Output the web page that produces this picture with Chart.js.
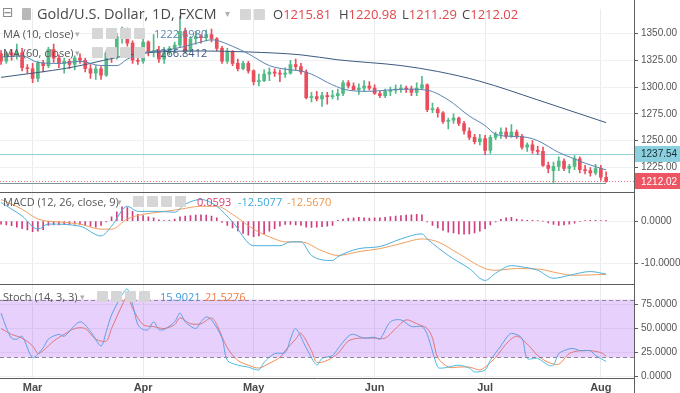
<!DOCTYPE html>
<html><head><meta charset="utf-8">
<script src="https://cdn.jsdelivr.net/npm/chart.js@4.4.0/dist/chart.umd.min.js"></script>
<style>
html,body{margin:0;padding:0;background:#fff;overflow:hidden}
#wrap{position:relative;width:680px;height:393px}
#c{position:absolute;left:0;top:0}
.lg{position:absolute;white-space:nowrap;line-height:1;font-family:'Open Sans',sans-serif}
.ic{position:absolute;width:11px;height:11px;background:#d6d6d6;border-radius:1px}
</style></head><body>
<div id="wrap">
<canvas id="c" width="680" height="393"></canvas>
<div class="lg" style="left:2px;top:5px;font-size:14px;color:#8a8a8a;font-family:'DejaVu Sans'">⊟</div>
<div class="ic" style="left:22px;top:8px;width:9px;height:12px;background:#b8b8b8"></div>
<div class="lg" style="left:37px;top:7px;font-size:14.5px;color:#4a4a4a">Gold/U.S. Dollar, 1D, FXCM</div>
<div class="lg" style="left:225px;top:8px;font-size:10px;color:#b0b0b0">▾</div>
<div class="ic" style="left:240px;top:9px"></div><div class="ic" style="left:254px;top:9px"></div>
<div class="lg" style="left:273px;top:8px;font-size:13px;color:#444">O<span style="color:#e0474c">1215.81</span></div>
<div class="lg" style="left:339px;top:8px;font-size:13px;color:#444">H<span style="color:#e0474c">1220.98</span></div>
<div class="lg" style="left:402px;top:8px;font-size:13px;color:#444">L<span style="color:#e0474c">1211.29</span></div>
<div class="lg" style="left:462px;top:8px;font-size:13px;color:#444">C<span style="color:#e0474c">1212.02</span></div>

<div class="lg" style="left:3px;top:28px;font-size:11px;color:#555">MA (10, close)</div>
<div class="lg" style="left:75px;top:29px;font-size:9px;color:#b0b0b0">▾</div>
<div class="ic" style="left:92px;top:28px"></div><div class="ic" style="left:106px;top:28px"></div><div class="ic" style="left:120px;top:28px"></div><div class="ic" style="left:134px;top:28px"></div>
<div class="lg" style="left:154px;top:28px;font-size:11px;color:#5b84b1">1222.6980</div>

<div class="lg" style="left:3px;top:47px;font-size:11px;color:#555">MA (60, close)</div>
<div class="lg" style="left:75px;top:48px;font-size:9px;color:#b0b0b0">▾</div>
<div class="ic" style="left:92px;top:47px"></div><div class="ic" style="left:106px;top:47px"></div><div class="ic" style="left:120px;top:47px"></div><div class="ic" style="left:134px;top:47px"></div>
<div class="lg" style="left:154px;top:47px;font-size:11px;color:#3d5a80">1266.8412</div>

<div class="lg" style="left:3px;top:196px;font-size:11px;color:#555">MACD (12, 26, close, 9)</div>
<div class="lg" style="left:117px;top:197px;font-size:9px;color:#b0b0b0">▾</div>
<div class="ic" style="left:133px;top:196px"></div><div class="ic" style="left:147px;top:196px"></div><div class="ic" style="left:161px;top:196px"></div><div class="ic" style="left:175px;top:196px"></div>
<div class="lg" style="left:197px;top:196px;font-size:11px;color:#d63b6e">0.0593</div>
<div class="lg" style="left:238px;top:196px;font-size:11px;color:#3fa9d9">-12.5077</div>
<div class="lg" style="left:287px;top:196px;font-size:11px;color:#f0954a">-12.5670</div>

<div class="lg" style="left:3px;top:291px;font-size:11px;color:#555">Stoch (14, 3, 3)</div>
<div class="lg" style="left:80px;top:292px;font-size:9px;color:#b0b0b0">▾</div>
<div class="ic" style="left:97px;top:291px"></div><div class="ic" style="left:111px;top:291px"></div><div class="ic" style="left:125px;top:291px"></div><div class="ic" style="left:139px;top:291px"></div>
<div class="lg" style="left:160px;top:291px;font-size:11px;color:#3f9ad8">15.9021</div>
<div class="lg" style="left:205px;top:291px;font-size:11px;color:#f07a45">21.5276</div>
</div>
<script>
// ---------- DATA ----------
const tradingDays = [
 '2018-02-21','2018-02-22','2018-02-23','2018-02-26','2018-02-27','2018-02-28',
 '2018-03-01','2018-03-02','2018-03-05','2018-03-06','2018-03-07','2018-03-08','2018-03-09','2018-03-12','2018-03-13','2018-03-14','2018-03-15','2018-03-16','2018-03-19','2018-03-20','2018-03-21','2018-03-22','2018-03-23','2018-03-26','2018-03-27','2018-03-28','2018-03-29',
 '2018-04-02','2018-04-03','2018-04-04','2018-04-05','2018-04-06','2018-04-09','2018-04-10','2018-04-11','2018-04-12','2018-04-13','2018-04-16','2018-04-17','2018-04-18','2018-04-19','2018-04-20','2018-04-23','2018-04-24','2018-04-25','2018-04-26','2018-04-27','2018-04-30',
 '2018-05-01','2018-05-02','2018-05-03','2018-05-04','2018-05-07','2018-05-08','2018-05-09','2018-05-10','2018-05-11','2018-05-14','2018-05-15','2018-05-16','2018-05-17','2018-05-18','2018-05-21','2018-05-22','2018-05-23','2018-05-24','2018-05-25','2018-05-28','2018-05-29','2018-05-30','2018-05-31',
 '2018-06-01','2018-06-04','2018-06-05','2018-06-06','2018-06-07','2018-06-08','2018-06-11','2018-06-12','2018-06-13','2018-06-14','2018-06-15','2018-06-18','2018-06-19','2018-06-20','2018-06-21','2018-06-22','2018-06-25','2018-06-26','2018-06-27','2018-06-28','2018-06-29',
 '2018-07-02','2018-07-03','2018-07-04','2018-07-05','2018-07-06','2018-07-09','2018-07-10','2018-07-11','2018-07-12','2018-07-13','2018-07-16','2018-07-17','2018-07-18','2018-07-19','2018-07-20','2018-07-23','2018-07-24','2018-07-25','2018-07-26','2018-07-27','2018-07-30','2018-07-31',
 '2018-08-01','2018-08-02'];
const monthLabels = ['Mar','Apr','May','Jun','Jul','Aug'];

const priceOpen = [1331,1324,1332,1330,1332,1318,1317,1308,1322,1320,1335,1327,1322,1324,1321,1327,1325,1317,1313,1317,1311,1332,1328,1347,1354,1341,1325,
 1324,1342,1333,1334,1326,1332,1336,1339,1352,1334,1345,1347,1346,1349,1345,1336,1324,1333,1322,1317,1322,
 1315,1305,1306,1312,1314,1313,1312,1313,1321,1319,1314,1290,1291,1289,1292,1291,1292,1294,1304,1301,1297.5,1299,1301,
 1299,1294,1292,1296,1297,1298,1299,1298,1295,1299,1302,1279,1279.5,1276,1268,1269,1271,1266,1259,1253,1249,
 1252,1241,1253,1256,1258,1254,1258,1254,1244,1246,1241,1240,1227,1222,1226,1231,1224,1226,1233,1223,1222,1220,
 1224,1215.81];
const priceHigh = [1334,1333,1335,1340,1336,1321,1322,1324,1325,1337,1340,1330,1327,1326,1329,1331,1327,1321,1320,1319,1334,1336,1350,1356,1355,1343,1330,
 1345,1343,1349,1338,1337,1338,1342,1366,1355,1347,1352,1349,1353,1354,1346,1338,1336,1334,1326,1324,1324,
 1316,1312,1316,1318,1317,1316,1318,1325,1326,1322,1316,1295,1296,1295,1295,1297,1298,1306,1306,1304,1303,1306,1305,
 1302,1296,1298,1300,1302,1302,1301,1301,1304,1310,1303,1285,1281,1277,1271,1275,1272,1268,1262,1256,1256,
 1255,1255,1258,1262,1262,1265,1260,1256,1248,1250,1245,1244,1230,1230,1235,1233,1228,1236,1235,1227,1225,1228,
 1227,1220.98];
const priceLow = [1321,1322,1325,1326,1315,1313,1304,1305,1314,1318,1323,1318,1313,1317,1316,1322,1314,1308,1307,1307,1310,1323,1326,1341,1338,1322,1321,
 1322,1329,1328,1323,1322,1330,1332,1337,1332,1333,1340,1341,1343,1342,1334,1322,1322,1320,1315,1316,1313,
 1302,1301,1305,1306,1310,1305,1309,1312,1316,1312,1289,1286,1287,1282,1284,1289,1288,1292,1299,1297,1293,1296,1297,
 1293,1290,1290,1292,1294,1295,1295,1292,1292,1298,1277,1276,1272,1266,1261,1266,1264,1256,1251,1247,1246,
 1237,1238,1251,1252,1252,1253,1252,1242,1240,1238,1237,1226,1220,1211,1222,1222,1220,1223,1220,1219,1217,1218,
 1213,1211.29];
const priceClose = [1324,1332,1330,1332,1318,1317,1308,1322,1320,1335,1327,1322,1324,1321,1327,1325,1317,1313,1317,1311,1332,1328,1347,1354,1341,1325,1324,
 1342,1333,1334,1326,1332,1336,1339,1352,1334,1345,1347,1346,1349,1345,1336,1324,1333,1322,1317,1322,1315,
 1305,1306,1312,1314,1313,1312,1313,1321,1319,1314,1290,1291,1289,1292,1291,1292,1294,1304,1301,1297.5,1299,1301,1299,
 1294,1292,1296,1297,1298,1299,1298,1295,1299,1302,1279,1279.5,1276,1268,1269,1271,1266,1259,1253,1249,1252,
 1241,1253,1256,1258,1254,1258,1254,1244,1246,1241,1240,1227,1224,1226,1231,1224,1226,1233,1223,1222,1220,1224,
 1216,1212.02];

// moving averages: [bar index, value]
const ma10Points = [[0,1328],[4,1329],[7,1323],[11,1322],[15,1324],[19,1320],[22,1320],[24,1326],[27,1332],[31,1334],[35,1338],[38,1342],[40,1344],[44,1338],[47,1331],[51,1320],[55,1316],[57,1315],[59,1312],[63,1302],[66,1297],[70,1296],[73,1297],[77,1298],[81,1297],[85,1288],[89,1273],[92,1264],[94,1256],[97,1254],[100,1253],[102,1250],[106,1239],[109,1233],[111,1229],[115,1222.7]];
const ma60Points = [[0,1309],[13,1318],[26,1331],[38,1333.6],[47,1332.7],[57,1330],[64,1325.4],[76,1320],[83,1314.5],[91,1305.4],[102,1288],[115,1266.8]];

// price levels on the right scale
const levelValues = [1237.54, 1212.02];
const levelLabels = ['1237.54', '1212.02'];
const supportLevel = [1210.8];

// MACD
const macdPoints = [[0,4.4],[4,1.2],[7,-1.9],[9,-0.7],[15,-1.2],[19,-3.5],[21,-1.2],[24,3.5],[26,2.3],[30,2.3],[33,2.1],[35,4.0],[38,5.1],[41,3.5],[44,-0.2],[48,-5.8],[53,-5.8],[55,-4.9],[57,-4.9],[59,-8.1],[63,-9.3],[64,-8.4],[68,-6.5],[72,-6.0],[76,-4.2],[80,-3.0],[81,-4.2],[85,-8.1],[89,-11.2],[92,-14.0],[94,-12.3],[97,-10.5],[99,-10.8],[102,-11.6],[105,-13.5],[108,-12.8],[112,-11.9],[115,-12.51]];
const signalPoints = [[0,5.1],[4,2.8],[7,0.5],[11,-0.2],[15,-0.7],[19,-1.9],[21,-1.9],[24,0.5],[27,1.6],[30,2.1],[34,2.8],[38,3.5],[41,3.5],[44,1.6],[48,-1.9],[52,-4.2],[54,-4.9],[57,-4.9],[61,-7.0],[64,-8.1],[68,-7.2],[72,-6.5],[76,-5.3],[80,-4.2],[83,-4.9],[87,-7.7],[92,-11.2],[94,-11.6],[98,-11.2],[102,-11.3],[106,-12.3],[109,-12.8],[115,-12.57]];
const macdHist = [-0.7,-0.9,-1.1,-1.4,-1.8,-2.1,-2.5,-2.4,-2.0,-1.0,-0.9,-0.9,-0.8,-0.8,-0.7,-0.8,-1.0,-1.2,-1.4,-1.0,-0.2,
 1.0,2.2,3.4,3.2,2.3,1.6,1.3,1.0,0.8,0.3,0.1,0.2,0.5,1.0,1.2,1.3,1.4,1.5,1.4,1.2,0.8,
 -0.3,-1.0,-1.6,-2.3,-2.9,-3.3,-3.7,-3.5,-3.0,-2.4,-1.8,-1.2,-0.8,-0.8,-0.9,-1.0,-1.4,-1.5,-1.4,-1.3,-1.2,-1.0,
 0.2,0.5,0.7,0.8,0.9,0.8,0.7,0.8,0.8,0.9,1.1,1.2,1.3,1.4,1.5,1.6,1.5,
 -0.2,-1.0,-1.6,-2.2,-2.6,-2.8,-3.0,-3.1,-3.0,-2.8,-2.4,-1.8,-0.9,
 -0.2,0.4,0.8,0.9,0.5,0.3,0.2,0.2,0.1,0.0,
 -0.4,-0.8,-1.0,-0.9,-0.7,-0.5,-0.1,0.1,0.2,0.2,0.1,0.06];
const macdTicks = [0, -10];

// Stochastic
const stochKPoints = [[0,66],[1,51],[2,40],[3,39],[4,42],[6,20],[8,30],[9,39],[11,44],[12,42],[15,57],[17,47],[19,32],[20,47],[21,64],[23,85],[24,91],[25,75],[26,54],[27,49],[28,49],[29,57],[30,49],[31,49],[33,57],[34,66],[35,57],[37,50],[38,57],[39,62],[40,59],[42,40],[43,17],[45,12],[47,10],[49,7],[50,15],[52,24],[54,25],[55,39],[56,50],[58,30],[60,12],[61,19],[63,22],[64,29],[66,42],[67,44],[69,40],[71,41],[72,39],[74,57],[76,59],[78,52],[80,52],[81,44],[83,10],[84,9],[87,12],[89,9],[90,5],[92,7],[93,17],[95,32],[96,40],[97,45],[99,40],[100,19],[102,19],[104,12],[105,12],[106,24],[108,29],[109,29],[110,27],[111,27],[112,27],[113,22],[115,15.9]];
const stochDPoints = [[0,50],[2,44],[4,40],[6,32],[7,24],[8,27],[10,37],[12,44],[14,50],[16,50],[18,39],[20,37],[21,50],[23,74],[24,84],[25,71],[27,54],[29,52],[31,50],[33,54],[34,61],[36,55],[38,55],[40,61],[41,54],[43,30],[45,17],[47,12],[49,9],[51,14],[53,20],[54,27],[56,39],[57,45],[59,27],[60,15],[62,17],[64,24],[66,37],[68,40],[71,40],[73,40],[75,50],[77,59],[79,55],[81,50],[82,40],[83,20],[85,10],[87,10],[89,10],[91,7],[92,10],[94,20],[96,34],[98,42],[100,34],[102,22],[104,15],[106,13],[108,24],[110,27],[112,27],[114,25],[115,21.5]];
const stochBands = [80, 20];
const stochTicks = [0, 25, 50, 75];
const priceTicks = [1225, 1250, 1275, 1300, 1325, 1350];

// ---------- BUILD ----------
const monthStartIdx = [];
tradingDays.forEach((d, i) => {
  if (i > 0 && d.slice(5, 7) !== tradingDays[i - 1].slice(5, 7)) monthStartIdx.push(i);
});
const UP = '#53b987', DOWN = '#eb4d5c';
const candleColors = priceClose.map((c, i) => c >= priceOpen[i] ? UP : DOWN);
const pts = arr => arr.map(p => ({x: p[0], y: p[1]}));

const decor = {
  id: 'decor',
  beforeDraw(chart) {
    const ctx = chart.ctx;
    ctx.save(); ctx.fillStyle = '#fff'; ctx.fillRect(0, 0, chart.width, chart.height); ctx.restore();
  },
  beforeDatasetsDraw(chart) {
    const ctx = chart.ctx, a = chart.chartArea, yP = chart.scales.yP, x = chart.scales.x;
    ctx.save();
    let y = Math.round(yP.getPixelForValue(levelValues[0])) + 0.5;
    ctx.strokeStyle = '#93d1d6'; ctx.lineWidth = 1;
    ctx.beginPath(); ctx.moveTo(a.left, y); ctx.lineTo(a.right, y); ctx.stroke();
    y = Math.round(yP.getPixelForValue(supportLevel[0])) + 0.5;
    ctx.strokeStyle = '#7f9597';
    ctx.beginPath(); ctx.moveTo(a.left, y); ctx.lineTo(x.getPixelForValue(tradingDays.length - 1), y); ctx.stroke();
    y = Math.round(yP.getPixelForValue(levelValues[1])) + 0.5;
    ctx.strokeStyle = '#ef6b77'; ctx.setLineDash([1, 2]);
    ctx.beginPath(); ctx.moveTo(a.left, y); ctx.lineTo(a.right, y); ctx.stroke();
    ctx.restore();
  },
  afterDatasetsDraw(chart) {
    const ctx = chart.ctx, a = chart.chartArea, yS = chart.scales.yS;
    const y1 = yS.getPixelForValue(stochBands[0]), y2 = yS.getPixelForValue(stochBands[1]);
    ctx.save();
    ctx.fillStyle = 'rgba(155,60,240,0.24)';
    ctx.fillRect(a.left, y1, a.right - a.left, y2 - y1);
    ctx.strokeStyle = '#8f8696'; ctx.lineWidth = 1; ctx.setLineDash([4, 3]);
    [y1, y2].forEach(y => { y = Math.round(y) + 0.5; ctx.beginPath(); ctx.moveTo(a.left, y); ctx.lineTo(a.right, y); ctx.stroke(); });
    ctx.restore();
  },
  afterDraw(chart) {
    const ctx = chart.ctx, a = chart.chartArea, yP = chart.scales.yP, yM = chart.scales.yM;
    ctx.save();
    ctx.strokeStyle = '#5d5d5d'; ctx.lineWidth = 1;
    [yP.bottom, yM.bottom].forEach(y => { y = Math.round(y) + 0.5; ctx.beginPath(); ctx.moveTo(0, y); ctx.lineTo(a.right, y); ctx.stroke(); });
    ctx.beginPath(); ctx.moveTo(Math.round(a.right) + 0.5, 0); ctx.lineTo(Math.round(a.right) + 0.5, chart.height); ctx.stroke();
    const boxes = [['#8ad0df', '#1d2b33'], ['#ee5563', '#ffffff']];
    ctx.font = '10px "Liberation Sans"'; ctx.textBaseline = 'middle'; ctx.textAlign = 'left';
    levelValues.forEach((v, i) => {
      const y = yP.getPixelForValue(v);
      ctx.fillStyle = boxes[i][0];
      ctx.fillRect(a.right + 1, Math.round(y) - 8, chart.width - a.right - 1, 16);
      ctx.fillStyle = boxes[i][1];
      ctx.fillText(levelLabels[i], a.right + 7, y + 0.5);
    });
    ctx.restore();
  }
};

Chart.defaults.font.family = '"Liberation Sans", Arial, sans-serif';
const tickFont = {size: 10};

new Chart(document.getElementById('c'), {
  type: 'bar',
  data: {
    datasets: [
      {type: 'line', label: 'MA10', yAxisID: 'yP', data: pts(ma10Points), borderColor: '#5b84b1', borderWidth: 1, pointRadius: 0, cubicInterpolationMode: 'monotone', order: 1},
      {type: 'line', label: 'MA60', yAxisID: 'yP', data: pts(ma60Points), borderColor: '#3d5a80', borderWidth: 1, pointRadius: 0, cubicInterpolationMode: 'monotone', order: 1},
      {type: 'bar', label: 'body', yAxisID: 'yP', grouped: false, barThickness: 3, minBarLength: 1,
        data: priceOpen.map((o, i) => ({x: i, y: [o, priceClose[i]]})), backgroundColor: candleColors, order: 3},
      {type: 'bar', label: 'wick', yAxisID: 'yP', grouped: false, barThickness: 1,
        data: priceLow.map((l, i) => ({x: i, y: [l, priceHigh[i]]})), backgroundColor: candleColors, order: 4},
      {type: 'bar', label: 'hist', yAxisID: 'yM', grouped: false, barThickness: 1,
        data: macdHist.map((v, i) => ({x: i, y: v})), backgroundColor: '#cf3f80', order: 5},
      {type: 'line', label: 'MACD', yAxisID: 'yM', data: pts(macdPoints), borderColor: '#4fb0dc', borderWidth: 1, pointRadius: 0, cubicInterpolationMode: 'monotone', order: 2},
      {type: 'line', label: 'Signal', yAxisID: 'yM', data: pts(signalPoints), borderColor: '#f0a060', borderWidth: 1, pointRadius: 0, cubicInterpolationMode: 'monotone', order: 2},
      {type: 'line', label: '%K', yAxisID: 'yS', data: pts(stochKPoints), borderColor: '#4cc0e4', borderWidth: 1, pointRadius: 0, tension: 0.3, order: 2},
      {type: 'line', label: '%D', yAxisID: 'yS', data: pts(stochDPoints), borderColor: '#f58a55', borderWidth: 1, pointRadius: 0, tension: 0.3, order: 2}
    ]
  },
  options: {
    responsive: false, animation: false, devicePixelRatio: 1,
    layout: {padding: 0},
    plugins: {legend: {display: false}, tooltip: {enabled: false}},
    scales: {
      x: {type: 'linear', min: -0.2, max: 120.3, offset: false,
        afterBuildTicks: s => { s.ticks = monthStartIdx.map(v => ({value: v})); },
        afterFit: s => { s.height = 15; },
        ticks: {autoSkip: false, maxRotation: 0, padding: 3, color: '#4a4a4a', font: {size: 11, weight: 'bold'},
          callback: (v, i) => monthLabels[i]},
        grid: {color: '#e8ecef', drawTicks: false, offset: false},
        border: {color: '#5d5d5d'}},
      yP: {type: 'linear', position: 'right', stack: 'panes', stackWeight: 187, min: 1202.55, max: 1372.75,
        afterBuildTicks: s => { s.ticks = priceTicks.map(v => ({value: v})); },
        afterFit: s => { s.width = 46; },
        ticks: {callback: v => v.toFixed(2), padding: 3, color: '#555', font: tickFont},
        grid: {color: '#eef1f3', tickLength: 4, tickColor: '#5d5d5d'},
        border: {color: '#5d5d5d'}},
      yM: {type: 'linear', position: 'right', stack: 'panes', stackWeight: 95, min: -14.91, max: 6.98,
        afterBuildTicks: s => { s.ticks = macdTicks.map(v => ({value: v})); },
        afterFit: s => { s.width = 46; },
        ticks: {callback: v => v.toFixed(4), padding: 3, color: '#555', font: tickFont},
        grid: {color: '#eef1f3', tickLength: 4, tickColor: '#5d5d5d'},
        border: {color: '#5d5d5d'}},
      yS: {type: 'linear', position: 'right', stack: 'panes', stackWeight: 96, min: -1.32, max: 95.9,
        afterBuildTicks: s => { s.ticks = stochTicks.map(v => ({value: v})); },
        afterFit: s => { s.width = 46; },
        ticks: {callback: v => v.toFixed(4), padding: 3, color: '#555', font: tickFont},
        grid: {color: '#eef1f3', tickLength: 4, tickColor: '#5d5d5d'},
        border: {color: '#5d5d5d'}}
    }
  },
  plugins: [decor]
});
</script>
</body></html>
